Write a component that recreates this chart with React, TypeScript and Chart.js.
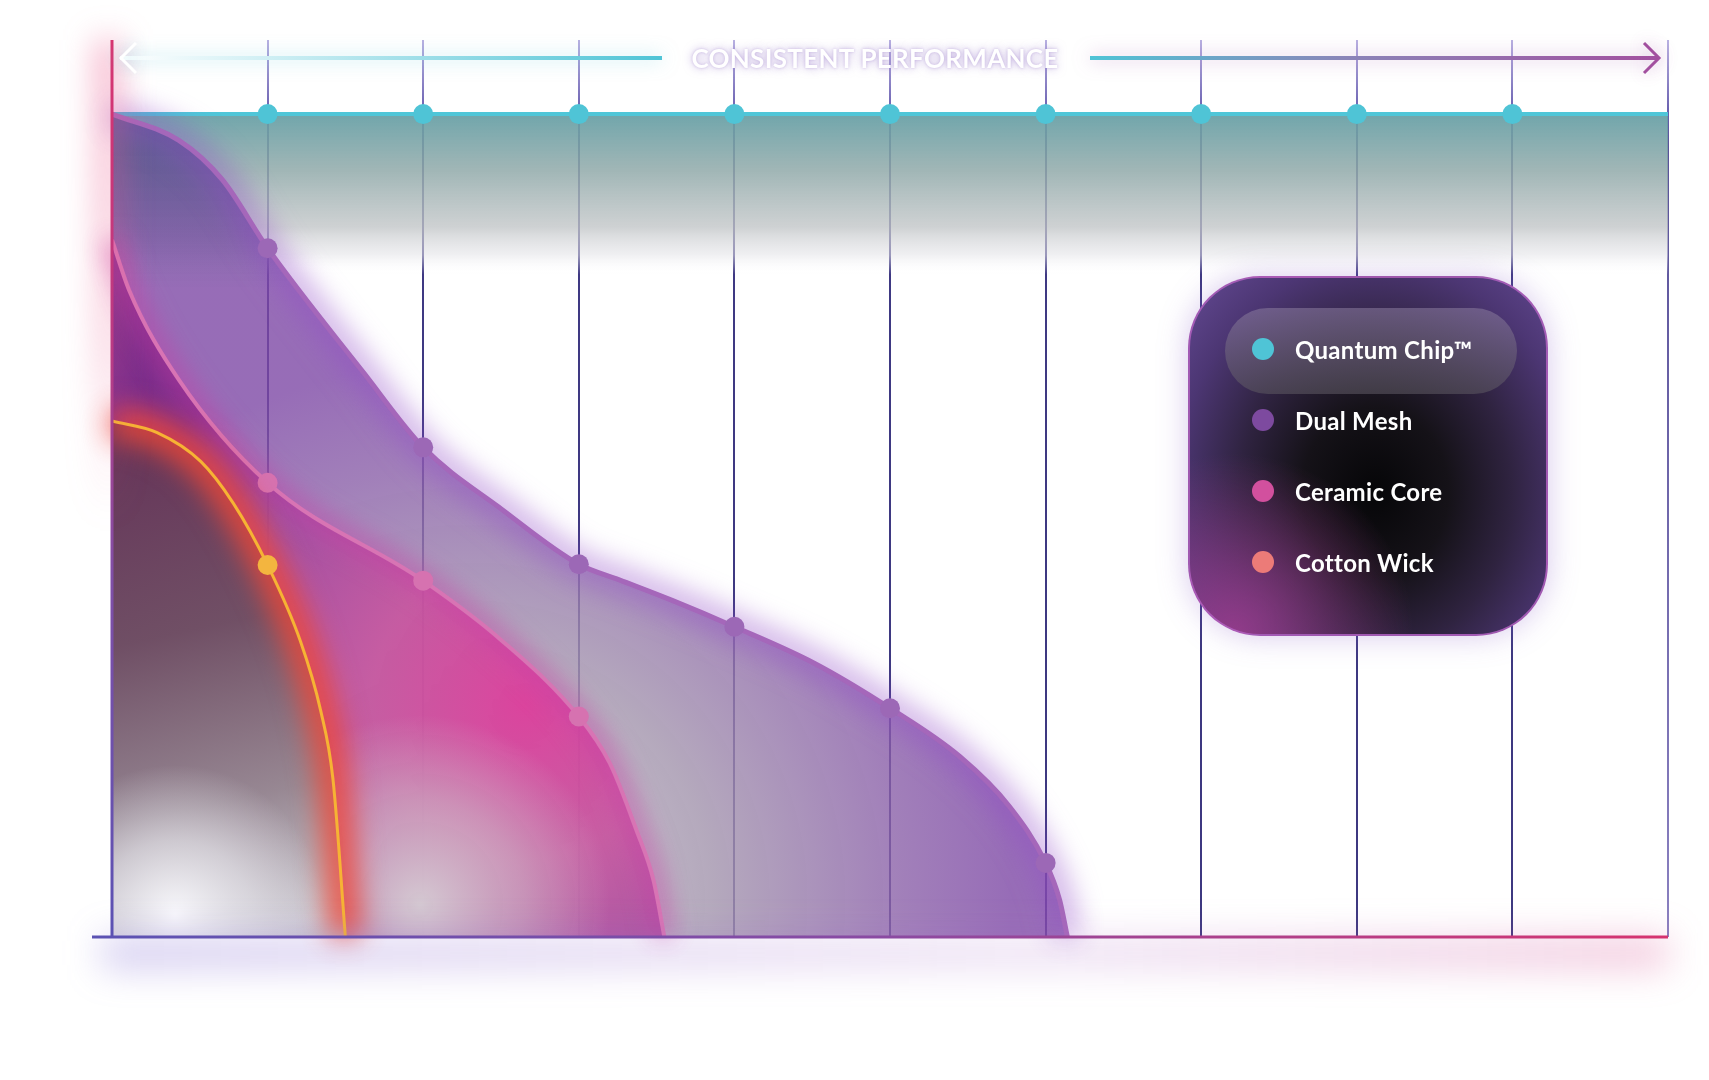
import { useEffect, useRef } from 'react'
import { Chart, registerables } from 'chart.js'

Chart.register(...registerables)

// x positions are steps along the usage axis, y is a 0..100 performance score
const xTickLabels = ['', '1000', '2000', '3000', '4000', '5000', '6000', '7000', '8000', '9000', '']

const quantumX = [0, 1, 2, 3, 4, 5, 6, 7, 8, 9, 10]
const quantumY = [100, 100, 100, 100, 100, 100, 100, 100, 100, 100, 100]

// curve readings (markers sit on the whole-number grid lines)
const dualMeshX = [0, 0.43, 0.71, 1, 1.62, 2, 2.51, 3, 3.26, 3.6, 4, 4.51, 5, 5.45, 5.77, 6, 6.09, 6.14]
const dualMeshY = [100, 96.8, 92.0, 83.7, 68.5, 59.5, 51.9, 45.3, 43.4, 40.9, 37.7, 33.3, 27.8, 21.9, 15.8, 9.0, 4.5, 0]

const ceramicX = [0, 0.11, 0.43, 1, 2, 2.5, 3, 3.2, 3.37, 3.48, 3.55]
const ceramicY = [84.7, 78.6, 67.7, 55.2, 43.3, 36.1, 26.8, 21.1, 13.0, 6.9, 0]

const cottonX = [0, 0.29, 0.57, 0.78, 1, 1.21, 1.34, 1.42, 1.5]
const cottonY = [62.7, 61.3, 57.8, 52.7, 45.2, 36.0, 27.6, 19.2, 0]

const legendItems = [
  { label: 'Quantum Chip™', color: '#4fc4d6' },
  { label: 'Dual Mesh', color: '#7d4a9f' },
  { label: 'Ceramic Core', color: '#d2509e' },
  { label: 'Cotton Wick', color: '#ec7b78' },
]

const toPoints = (xs: number[], ys: number[]) => xs.map((x, i) => ({ x, y: ys[i] }))
const markerRadius = (xs: number[], r: number) =>
  xs.map((x, i) => (Number.isInteger(x) && x > 0 && i < xs.length - 1 ? r : 0))

const radial = (ctx: CanvasRenderingContext2D, x: number, y: number, r: number, stops: [number, string][]) => {
  const g = ctx.createRadialGradient(x, y, 0, x, y, r)
  stops.forEach(([o, c]) => g.addColorStop(o, c))
  return g
}

// extra shading inside each area plus a soft blurred stroke along the curve,
// painted after the fill and before the line itself
const glowPlugin = {
  id: 'glow',
  beforeDatasetDraw(chart: any, args: any) {
    const ds = chart.data.datasets[args.index]
    const meta = chart.getDatasetMeta(args.index)
    const line = meta.dataset
    const { ctx, chartArea: area } = chart
    if (ds.overlay) {
      const pts = meta.data
      ctx.save()
      ctx.beginPath()
      line.path(ctx)
      ctx.lineTo(pts[pts.length - 1].x, area.bottom)
      ctx.lineTo(pts[0].x, area.bottom)
      ctx.closePath()
      ctx.clip()
      ds.overlay(ctx).forEach((g: any) => {
        ctx.fillStyle = g
        ctx.fillRect(area.left, area.top, area.right - area.left, area.bottom - area.top)
      })
      ctx.restore()
    }
    if (ds.glowColor) {
      ctx.save()
      ctx.filter = `blur(${ds.glowBlur}px)`
      ctx.strokeStyle = ds.glowColor
      ctx.lineWidth = ds.glowWidth
      ctx.lineJoin = 'round'
      ctx.beginPath()
      line.path(ctx)
      ctx.stroke()
      ctx.restore()
    }
  },
}

const decorPlugin = {
  id: 'decor',
  afterDatasetsDraw(chart: any) {
    const { ctx, chartArea: a } = chart
    ctx.save()
    // pink haze round the top of the left axis
    ctx.filter = 'blur(16px)'
    let g = ctx.createLinearGradient(0, a.top, 0, a.top + 480)
    g.addColorStop(0, 'rgba(235,90,140,0.5)')
    g.addColorStop(0.6, 'rgba(235,90,140,0.3)')
    g.addColorStop(1, 'rgba(235,90,140,0)')
    ctx.strokeStyle = g
    ctx.lineWidth = 24
    ctx.beginPath()
    ctx.moveTo(a.left - 4, a.top)
    ctx.lineTo(a.left - 4, a.top + 480)
    ctx.stroke()
    // lavender haze under the base line
    ctx.filter = 'blur(18px)'
    g = ctx.createLinearGradient(a.left - 20, 0, a.right, 0)
    g.addColorStop(0, 'rgba(120,100,210,0.35)')
    g.addColorStop(0.6, 'rgba(170,110,200,0.22)')
    g.addColorStop(1, 'rgba(220,90,150,0.35)')
    ctx.strokeStyle = g
    ctx.lineWidth = 30
    ctx.beginPath()
    ctx.moveTo(a.left - 10, a.bottom + 16)
    ctx.lineTo(a.right, a.bottom + 16)
    ctx.stroke()
    ctx.filter = 'none'
    // left axis
    g = ctx.createLinearGradient(0, a.top, 0, a.bottom)
    g.addColorStop(0, '#d8336f')
    g.addColorStop(0.35, '#b93a84')
    g.addColorStop(0.6, '#7f4ea6')
    g.addColorStop(1, '#5b52b3')
    ctx.strokeStyle = g
    ctx.lineWidth = 3
    ctx.beginPath()
    ctx.moveTo(a.left, a.top)
    ctx.lineTo(a.left, a.bottom)
    ctx.stroke()
    // bottom axis
    g = ctx.createLinearGradient(a.left - 20, 0, a.right, 0)
    g.addColorStop(0, '#5b52b3')
    g.addColorStop(0.5, '#8a4aa2')
    g.addColorStop(1, '#d6336f')
    ctx.strokeStyle = g
    ctx.beginPath()
    ctx.moveTo(a.left - 20, a.bottom)
    ctx.lineTo(a.right, a.bottom)
    ctx.stroke()
    ctx.restore()
  },
  afterDraw(chart: any) {
    const { ctx, chartArea: a } = chart
    const y = 58
    ctx.save()
    ctx.lineWidth = 4
    // left arrow
    let g = ctx.createLinearGradient(a.left + 8, 0, 662, 0)
    g.addColorStop(0, '#ffffff')
    g.addColorStop(1, '#4fc4d6')
    ctx.shadowColor = 'rgba(79,196,214,0.5)'
    ctx.shadowBlur = 18
    ctx.strokeStyle = g
    ctx.beginPath()
    ctx.moveTo(a.left + 8, y)
    ctx.lineTo(662, y)
    ctx.stroke()
    ctx.lineWidth = 3
    ctx.strokeStyle = '#ffffff'
    ctx.beginPath()
    ctx.moveTo(a.left + 24, y - 15)
    ctx.lineTo(a.left + 9, y)
    ctx.lineTo(a.left + 24, y + 15)
    ctx.stroke()
    // right arrow
    ctx.lineWidth = 4
    g = ctx.createLinearGradient(1090, 0, a.right - 8, 0)
    g.addColorStop(0, '#4fc4d6')
    g.addColorStop(0.45, '#8a84b8')
    g.addColorStop(1, '#a24f9f')
    ctx.shadowColor = 'rgba(160,80,170,0.5)'
    ctx.strokeStyle = g
    ctx.beginPath()
    ctx.moveTo(1090, y)
    ctx.lineTo(a.right - 9, y)
    ctx.stroke()
    ctx.lineWidth = 3
    ctx.strokeStyle = '#a24f9f'
    ctx.beginPath()
    ctx.moveTo(a.right - 24, y - 15)
    ctx.lineTo(a.right - 9, y)
    ctx.lineTo(a.right - 24, y + 15)
    ctx.stroke()
    ctx.restore()
  },
}

export default function App() {
  const chartRef = useRef<HTMLCanvasElement>(null)
  const chartInstance = useRef<Chart | null>(null)

  useEffect(() => {
    document.body.style.margin = '0'
    if (!chartRef.current) return
    if (chartInstance.current) chartInstance.current.destroy()

    const ctx = chartRef.current.getContext('2d')
    if (!ctx) return

    Chart.defaults.font.family = 'Lato, sans-serif'

    chartInstance.current = new Chart(ctx, {
      type: 'line',
      data: {
        datasets: [
          {
            label: 'Cotton Wick',
            data: toPoints(cottonX, cottonY),
            order: 1,
            borderColor: '#f6b334',
            borderWidth: 3,
            pointRadius: markerRadius(cottonX, 10),
            pointBackgroundColor: '#f3b53f',
            pointBorderWidth: 0,
            cubicInterpolationMode: 'monotone',
            fill: 'origin',
            glowColor: 'rgba(238,72,56,0.95)',
            glowWidth: 30,
            glowBlur: 14,
            backgroundColor: (c: any) => {
              const area = c.chart.chartArea
              if (!area) return 'rgba(120,80,100,0.9)'
              const g = c.chart.ctx.createLinearGradient(area.left, 420, area.left + 110, area.bottom)
              g.addColorStop(0, 'rgba(100,50,86,0.96)')
              g.addColorStop(0.42, 'rgba(110,80,98,0.94)')
              g.addColorStop(0.75, 'rgba(150,140,146,0.92)')
              g.addColorStop(1, 'rgba(205,205,210,0.92)')
              return g
            },
            overlay: (x: CanvasRenderingContext2D) => [
              radial(x, 175, 915, 150, [
                [0, 'rgba(252,252,255,0.95)'],
                [0.5, 'rgba(235,236,240,0.6)'],
                [1, 'rgba(230,230,235,0)'],
              ]),
            ],
          },
          {
            label: 'Ceramic Core',
            data: toPoints(ceramicX, ceramicY),
            order: 2,
            borderColor: '#d874b4',
            borderWidth: 4,
            pointRadius: markerRadius(ceramicX, 10),
            pointBackgroundColor: '#d672b0',
            pointBorderWidth: 0,
            cubicInterpolationMode: 'monotone',
            fill: 'origin',
            glowColor: 'rgba(200,60,165,0.6)',
            glowWidth: 18,
            glowBlur: 12,
            backgroundColor: (c: any) => {
              const area = c.chart.chartArea
              if (!area) return 'rgba(200,80,160,0.85)'
              return radial(c.chart.ctx, 525, 705, 440, [
                [0, 'rgba(222,60,155,0.93)'],
                [0.35, 'rgba(200,82,158,0.88)'],
                [0.7, 'rgba(160,72,158,0.88)'],
                [1, 'rgba(120,40,135,0.92)'],
              ])
            },
            overlay: (x: CanvasRenderingContext2D) => [
              radial(x, 420, 905, 190, [
                [0, 'rgba(215,210,214,0.92)'],
                [0.55, 'rgba(205,190,200,0.55)'],
                [1, 'rgba(205,190,200,0)'],
              ]),
            ],
          },
          {
            label: 'Dual Mesh',
            data: toPoints(dualMeshX, dualMeshY),
            order: 3,
            borderColor: '#a567ba',
            borderWidth: 5,
            pointRadius: markerRadius(dualMeshX, 10),
            pointBackgroundColor: '#9c68b6',
            pointBorderWidth: 0,
            cubicInterpolationMode: 'monotone',
            fill: 'origin',
            glowColor: 'rgba(145,75,200,0.5)',
            glowWidth: 24,
            glowBlur: 14,
            backgroundColor: (c: any) => {
              const area = c.chart.chartArea
              if (!area) return 'rgba(150,110,180,0.8)'
              return radial(c.chart.ctx, 470, 900, 540, [
                [0, 'rgba(202,199,206,0.88)'],
                [0.45, 'rgba(164,150,174,0.82)'],
                [0.8, 'rgba(138,96,168,0.8)'],
                [1, 'rgba(125,72,165,0.8)'],
              ])
            },
            overlay: (x: CanvasRenderingContext2D) => {
              const g = x.createLinearGradient(0, 114, 0, 290)
              g.addColorStop(0, 'rgba(60,95,125,0.55)')
              g.addColorStop(1, 'rgba(60,95,125,0)')
              return [g]
            },
          },
          {
            label: 'Quantum Chip™',
            data: toPoints(quantumX, quantumY),
            order: 4,
            borderColor: '#4fc6d8',
            borderWidth: 4,
            pointRadius: markerRadius(quantumX, 10),
            pointBackgroundColor: '#4fc4d6',
            pointBorderWidth: 0,
            fill: 'origin',
            backgroundColor: (c: any) => {
              const area = c.chart.chartArea
              const ys = c.chart.scales.y
              if (!area || !ys) return 'rgba(110,160,165,0.6)'
              const top = ys.getPixelForValue(100)
              const bottom = ys.getPixelForValue(80.5)
              const g = c.chart.ctx.createLinearGradient(0, top, 0, bottom)
              g.addColorStop(0, 'rgba(100,158,164,0.92)')
              g.addColorStop(0.35, 'rgba(145,170,170,0.86)')
              g.addColorStop(0.7, 'rgba(192,196,198,0.78)')
              g.addColorStop(0.88, 'rgba(228,228,232,0.55)')
              g.addColorStop(1, 'rgba(255,255,255,0)')
              return g
            },
          },
        ] as any,
      },
      options: {
        responsive: false,
        animation: false,
        events: [],
        layout: { padding: { left: 0, right: 41, top: 40, bottom: 0 } },
        plugins: {
          legend: { display: false },
          tooltip: { enabled: false },
        },
        scales: {
          x: {
            type: 'linear',
            min: 0,
            max: 10,
            afterFit: (s: any) => {
              s.height = 143
            },
            afterBuildTicks: (s: any) => {
              s.ticks = xTickLabels.map((_, i) => ({ value: i }))
            },
            ticks: {
              color: '#ffffff',
              padding: 38,
              font: { size: 20, weight: 'bold' },
              callback: (v: any) => xTickLabels[v] ?? '',
            },
            border: { display: false },
            grid: {
              drawTicks: false,
              lineWidth: 2,
              color: (c: any) => {
                const area = c.chart.chartArea
                if (!area) return '#3d3880'
                const last = c.index === xTickLabels.length - 1
                const g = c.chart.ctx.createLinearGradient(0, area.top, 0, area.bottom)
                g.addColorStop(0, 'rgba(160,150,215,0.75)')
                g.addColorStop(0.08, 'rgba(95,85,170,0.95)')
                g.addColorStop(0.12, last ? '#5a529a' : '#3f3983')
                g.addColorStop(1, last ? '#8a80c0' : '#3d3880')
                return g
              },
            },
          },
          y: {
            type: 'linear',
            min: 0,
            max: 109,
            afterFit: (s: any) => {
              s.width = 112
            },
            afterBuildTicks: (s: any) => {
              s.ticks = [{ value: 0 }, { value: 100 }]
            },
            ticks: {
              color: '#ffffff',
              padding: 23,
              font: { size: 26 },
              callback: (v: any) => (v === 100 ? 'HIGH' : v === 0 ? 'LOW' : ''),
            },
            border: { display: false },
            grid: { display: false },
          },
        },
      } as any,
      plugins: [glowPlugin, decorPlugin],
    })

    return () => {
      if (chartInstance.current) {
        chartInstance.current.destroy()
        chartInstance.current = null
      }
    }
  }, [])

  return (
    <div
      style={{
        position: 'relative',
        width: 1709,
        height: 1080,
        background: '#ffffff',
        overflow: 'hidden',
        fontFamily: 'Lato, sans-serif',
      }}
    >
      <canvas ref={chartRef} width={1709} height={1080} style={{ position: 'absolute', left: 0, top: 0 }} />

      <div
        style={{
          position: 'absolute',
          left: 875,
          top: 58,
          transform: 'translate(-50%, -50%)',
          color: '#ffffff',
          fontSize: 26,
          fontWeight: 700,
          letterSpacing: 0.3,
          whiteSpace: 'nowrap',
          textShadow: '0 0 10px rgba(150,120,200,0.6), 0 0 3px rgba(150,120,200,0.45)',
        }}
      >
        CONSISTENT PERFORMANCE
      </div>

      <div
        style={{
          position: 'absolute',
          left: 1188,
          top: 276,
          width: 360,
          height: 360,
          boxSizing: 'border-box',
          borderRadius: 72,
          border: '2px solid rgba(176,96,190,0.85)',
          boxShadow: '0 0 30px rgba(140,100,200,0.35)',
          background:
            'radial-gradient(circle at 12% 100%, rgba(150,60,140,0.95) 0%, rgba(150,60,140,0) 38%), ' +
            'radial-gradient(ellipse at 52% 60%, #060608 0%, #151218 28%, #2f2340 52%, #4c3673 76%, #644a94 100%)',
        }}
      >
        <div
          style={{
            position: 'absolute',
            left: 35,
            top: 30,
            width: 292,
            height: 86,
            borderRadius: 43,
            background: 'linear-gradient(180deg, rgba(140,125,160,0.55) 0%, rgba(90,85,95,0.6) 100%)',
          }}
        />
        {legendItems.map((item, i) => (
          <div
            key={item.label}
            style={{
              position: 'absolute',
              left: 62,
              top: 71 + i * 71 - 16,
              height: 32,
              display: 'flex',
              alignItems: 'center',
              gap: 21,
            }}
          >
            <span
              style={{
                width: 22,
                height: 22,
                borderRadius: '50%',
                background: item.color,
                display: 'inline-block',
                flexShrink: 0,
              }}
            />
            <span style={{ color: '#ffffff', fontSize: 24, fontWeight: 700, letterSpacing: 0.3 }}>{item.label}</span>
          </div>
        ))}
      </div>
    </div>
  )
}
